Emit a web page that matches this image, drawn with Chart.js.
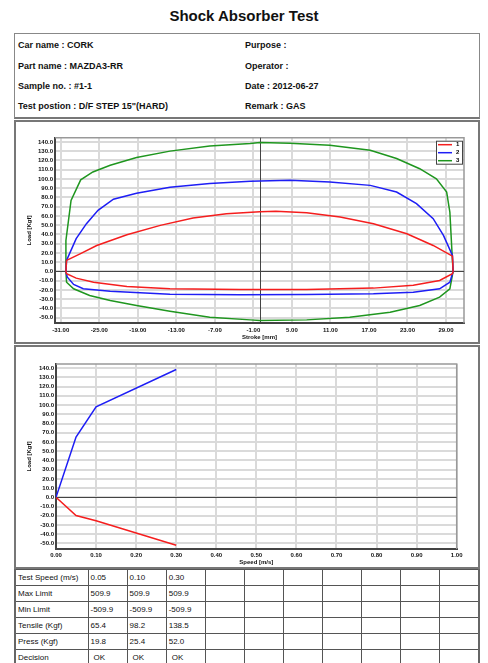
<!DOCTYPE html>
<html>
<head>
<meta charset="utf-8">
<title>Shock Absorber Test</title>
<script src="https://cdn.jsdelivr.net/npm/chart.js@4.4.0/dist/chart.umd.min.js"></script>
<style>
  body { margin:0; width:488px; height:663px; overflow:hidden; background:#fff; position:relative;
         font-family:"Liberation Sans", Arial, sans-serif; color:#111; }
  #title { position:absolute; left:0; top:7px; width:488px; text-align:center; font-weight:bold; font-size:15px; line-height:18px; }
  #info { position:absolute; left:14px; top:33px; width:466px; height:86px; box-sizing:border-box;
          border:1px solid #888; border-bottom:2px solid #777; }
  .info { position:absolute; font-weight:bold; font-size:9px; line-height:11px; white-space:nowrap; }
  .panel { position:absolute; left:14px; width:466px; height:224px; box-sizing:border-box; border:2px solid #777; }
  .panel canvas { position:absolute; left:0; top:0; }
  #results { position:absolute; left:14px; top:569px; width:466px; border-collapse:collapse; table-layout:fixed;
             font-size:8px; border-left:2px solid #666; border-right:2px solid #666; }
  #results td { border:1px solid #555; height:15px; padding:0 0 0 2px; white-space:nowrap; overflow:hidden; }
  #results td.ok { padding-left:5px; }
</style>
</head>
<body>
<div id="title">Shock Absorber Test</div>
<div id="info">
  <div class="info" style="left:3px;top:6px">Car name : CORK</div>
  <div class="info" style="left:3px;top:27px">Part name : MAZDA3-RR</div>
  <div class="info" style="left:3px;top:47px">Sample no. : #1-1</div>
  <div class="info" style="left:3px;top:67px">Test postion : D/F STEP 15"(HARD)</div>
  <div class="info" style="left:230px;top:6px">Purpose :</div>
  <div class="info" style="left:230px;top:27px">Operator :</div>
  <div class="info" style="left:230px;top:47px">Date : 2012-06-27</div>
  <div class="info" style="left:230px;top:67px">Remark : GAS</div>
</div>
<div class="panel" style="top:120px"><canvas id="strokeChart" width="462" height="220"></canvas></div>
<div class="panel" style="top:345px"><canvas id="speedChart" width="462" height="220"></canvas></div>
<table id="results">
  <colgroup><col style="width:73px"></colgroup>
  <tbody id="resultsBody"></tbody>
</table>

<script>
// tick labels
const loadTicks = [-50, -40, -30, -20, -10, 0, 10, 20, 30, 40, 50, 60, 70, 80, 90, 100, 110, 120, 130, 140];
const strokeTicks = [-31, -25, -19, -13, -7, -1, 5, 11, 17, 23, 29];
const speedTicks = [0, 0.1, 0.2, 0.3, 0.4, 0.5, 0.6, 0.7, 0.8, 0.9, 1.0];

// stroke / load loops
const seriesNames = ['1', '2', '3'];
const stroke1 = [-30.1, -28, -25.4, -20.7, -15.5, -10.4, -5.2, 0, 2.5, 7.3, 12.5, 17.7, 22.9, 27, 30,
                 30.1, 30, 28, 23.9, 17.7, 7.3, -3.1, -14, -20.7, -25.9, -28.6, -30.1, -30.2, -30.1];
const load1 = [12, 19, 28, 39.7, 49.8, 57.7, 62.4, 64.5, 65, 63.5, 58.8, 51.6, 40.8, 28.1, 16.6,
               0, -2.5, -9.7, -15, -18, -19.5, -19.6, -18.7, -16.2, -11.6, -7.2, -2.5, 0, 12];
const stroke2 = [-30.1, -28.6, -27, -25.2, -22.8, -19.2, -14, -7.8, -1.5, 4.7, 10.9, 17.2, 21.3, 24.4, 27, 28.6, 30,
                 30.1, 29.6, 28, 23.9, 17.7, 7.3, -3.1, -14, -23.3, -27.5, -29, -30, -30.2, -30.1];
const load2 = [12, 35.4, 51.6, 66, 78, 84.5, 91, 95, 97.4, 98.5, 96.6, 93, 85.8, 73.3, 57, 39, 17.3,
               0, -11.6, -18.7, -22.4, -24.1, -24.9, -25.2, -24.6, -21.3, -18.7, -14, -6, 0, 12];
const stroke3 = [-30.2, -30.2, -29.4, -27.9, -26, -23.3, -19.2, -14, -7.8, -1.5, 0, 4.7, 10.9, 17.2, 21.3, 24.9, 27.5, 29.1, 29.6, 29.9,
                 30.1, 29.6, 28, 24.9, 20.3, 14, 7.3, 0, -1.5, -7.8, -14, -19.2, -23.3, -26.5, -29, -30.1, -30.2, -30.2];
const load3 = [10, 33.5, 76.8, 99, 107.5, 114.7, 123, 130, 135.6, 138.2, 139.3, 138.5, 136.4, 131, 122, 111, 100, 85.8, 64, 24.6,
               0, -18.7, -27.8, -36.8, -44, -49.5, -52.3, -53, -52.3, -49.5, -43, -36.8, -31.4, -26, -18.7, -11.6, 0, 10];

// speed / load
const speedPts = [0, 0.05, 0.10, 0.30];
const tensileLoad = [0, 65.4, 98.2, 138.5];
const pressLoad = [0, -19.8, -25.4, -52.0];

// result table
const rowNames = ['Test Speed (m/s)', 'Max Limit', 'Min Limit', 'Tensile (Kgf)', 'Press (Kgf)', 'Decision'];
const testSpeed = ['0.05', '0.10', '0.30'];
const maxLimit = ['509.9', '509.9', '509.9'];
const minLimit = ['-509.9', '-509.9', '-509.9'];
const tensile = ['65.4', '98.2', '138.5'];
const press = ['19.8', '25.4', '52.0'];
const decision = ['OK', 'OK', 'OK'];

const RED = '#f51e1e', BLUE = '#1e1ef5', GREEN = '#1f961f';

function lineSet(label, color, xs, ys) {
  return {
    label: label, borderColor: color, backgroundColor: color, borderWidth: 1.5,
    pointRadius: 0, showLine: true, fill: false, tension: 0,
    data: xs.map((x, i) => ({ x: x, y: ys[i] }))
  };
}

function axisFont() {
  return { family: 'Liberation Sans', size: 6, weight: 'bold' };
}

// top/right frame and the zero lines
const plotFrame = {
  id: 'plotFrame',
  beforeDatasetsDraw(chart) {
    const a = chart.chartArea, ctx = chart.ctx;
    const xs = chart.scales.x, ys = chart.scales.y;
    ctx.save();
    ctx.strokeStyle = '#999';
    ctx.lineWidth = 1.5;
    ctx.beginPath();
    ctx.moveTo(a.left, a.top);
    ctx.lineTo(a.right, a.top);
    ctx.lineTo(a.right, a.bottom);
    ctx.stroke();
    ctx.strokeStyle = '#444';
    ctx.lineWidth = 1;
    ctx.beginPath();
    const y0 = Math.round(ys.getPixelForValue(0)) + 0.5;
    ctx.moveTo(a.left, y0);
    ctx.lineTo(a.right, y0);
    if (xs.min < 0) {
      const x0 = Math.round(xs.getPixelForValue(0)) + 0.5;
      ctx.moveTo(x0, a.top);
      ctx.lineTo(x0, a.bottom);
    }
    ctx.stroke();
    ctx.restore();
  }
};

// small boxed legend in the top right corner of the plot
const boxLegend = {
  id: 'boxLegend',
  afterDraw(chart) {
    const a = chart.chartArea, ctx = chart.ctx;
    const w = 27, h = 24;
    const x0 = a.right - w - 1, y0 = a.top + 3;
    ctx.save();
    ctx.fillStyle = '#fff';
    ctx.fillRect(x0, y0, w, h);
    ctx.strokeStyle = '#444';
    ctx.lineWidth = 1;
    ctx.strokeRect(x0 + 0.5, y0 + 0.5, w - 1, h - 1);
    ctx.font = 'bold 6px "Liberation Sans"';
    ctx.textBaseline = 'middle';
    chart.data.datasets.forEach((ds, i) => {
      const y = y0 + 4 + i * 8;
      ctx.strokeStyle = ds.borderColor;
      ctx.lineWidth = 1.5;
      ctx.beginPath();
      ctx.moveTo(x0 + 2, y);
      ctx.lineTo(x0 + 16, y);
      ctx.stroke();
      ctx.fillStyle = '#000';
      ctx.fillText(ds.label, x0 + 20, y);
    });
    ctx.restore();
  }
};

function makeOptions(o) {
  return {
    responsive: false,
    animation: false,
    devicePixelRatio: 1,
    layout: { padding: { left: 10, top: o.top, right: o.right, bottom: o.bottom } },
    plugins: { legend: { display: false }, tooltip: { enabled: false } },
    scales: {
      x: {
        type: 'linear', min: o.xMin, max: o.xMax,
        afterBuildTicks: s => { s.ticks = o.xTicks.map(v => ({ value: v })); },
        afterFit: s => { s.height = o.xHeight; },
        ticks: { font: axisFont(), color: '#111', padding: 3, maxRotation: 0, autoSkip: false,
                 callback: v => Number(v).toFixed(o.xDec) },
        grid: { color: '#dadada', lineWidth: 2, drawTicks: false },
        border: { color: '#444', width: 2 },
        title: { display: true, text: o.xTitle, font: axisFont(), color: '#111', padding: 0 }
      },
      y: {
        type: 'linear', min: -56, max: 144.5,
        afterBuildTicks: s => { s.ticks = loadTicks.map(v => ({ value: v })); },
        afterFit: s => { s.width = o.yWidth; },
        ticks: { font: axisFont(), color: '#111', padding: 2, autoSkip: false,
                 callback: v => Number(v).toFixed(1) },
        grid: { color: '#dadada', lineWidth: 2, drawTicks: false },
        border: { color: '#444', width: 2 },
        title: { display: true, text: 'Load [Kgf]', font: axisFont(), color: '#111', padding: 0 }
      }
    }
  };
}

new Chart(document.getElementById('strokeChart'), {
  type: 'scatter',
  data: {
    datasets: [
      lineSet(seriesNames[0], RED, stroke1, load1),
      lineSet(seriesNames[1], BLUE, stroke2, load2),
      lineSet(seriesNames[2], GREEN, stroke3, load3)
    ]
  },
  options: makeOptions({ xMin: -31.9, xMax: 31.8, xTicks: strokeTicks, xDec: 2, xTitle: 'Stroke [mm]',
                         top: 15.7, right: 14, bottom: 1.4, xHeight: 17.3, yWidth: 29 }),
  plugins: [plotFrame, boxLegend]
});

new Chart(document.getElementById('speedChart'), {
  type: 'scatter',
  data: {
    datasets: [
      lineSet('Tensile', BLUE, speedPts, tensileLoad),
      lineSet('Press', RED, speedPts, pressLoad)
    ]
  },
  options: makeOptions({ xMin: 0, xMax: 1, xTicks: speedTicks, xDec: 2, xTitle: 'Speed [m/s]',
                         top: 17, right: 21.3, bottom: 1.1, xHeight: 16.9, yWidth: 30 }),
  plugins: [plotFrame]
});

// fill the result table, 10 value columns
const tableRows = [testSpeed, maxLimit, minLimit, tensile, press, decision];
const body = document.getElementById('resultsBody');
tableRows.forEach((vals, r) => {
  const tr = document.createElement('tr');
  let html = '<td>' + rowNames[r] + '</td>';
  for (let c = 0; c < 10; c++) {
    const v = vals[c] || '';
    html += '<td' + (r === 5 ? ' class="ok"' : '') + '>' + v + '</td>';
  }
  tr.innerHTML = html;
  body.appendChild(tr);
});
</script>
</body>
</html>
